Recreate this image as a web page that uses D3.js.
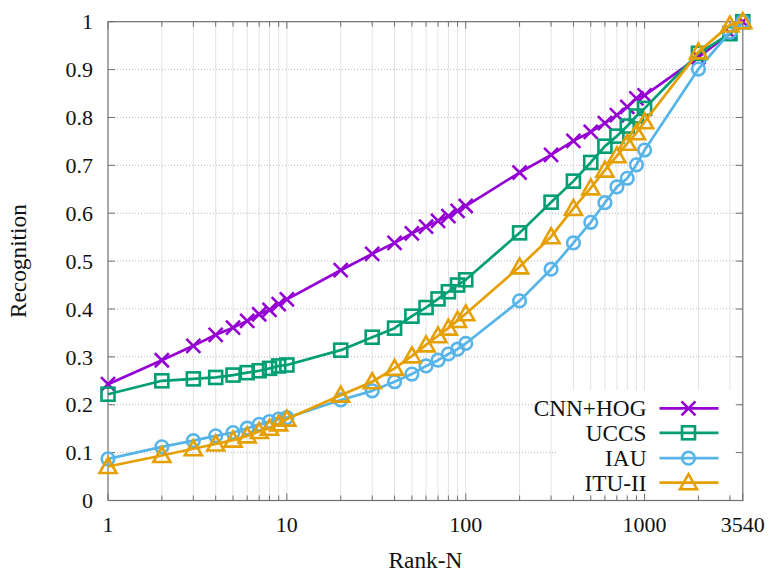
<!DOCTYPE html>
<html>
<head>
<meta charset="utf-8">
<script src="https://cdn.jsdelivr.net/npm/d3@7/dist/d3.min.js"></script>
<style>
  html, body { margin: 0; padding: 0; background: #fff; }
  svg { display: block; }
  svg text { font-family: "Liberation Serif", "DejaVu Serif", serif; }
</style>
</head>
<body>
<div id="chart"></div>
<script>
// ranks on the x axis (log scale)
const ranks = [1, 2, 3, 4, 5, 6, 7, 8, 9, 10,
  20, 30, 40, 50, 60, 70, 80, 90, 100,
  200, 300, 400, 500, 600, 700, 800, 900, 1000,
  2000, 3000, 3540];

const cnnHog = [0.243, 0.293, 0.323, 0.346, 0.361, 0.375, 0.389, 0.398, 0.410, 0.420,
  0.481, 0.515, 0.538, 0.558, 0.572, 0.584, 0.594, 0.605, 0.615,
  0.685, 0.722, 0.751, 0.770, 0.788, 0.805, 0.822, 0.840, 0.846,
  0.926, 0.976, 1.0];
const uccs = [0.222, 0.250, 0.254, 0.257, 0.262, 0.267, 0.271, 0.276, 0.281, 0.283,
  0.314, 0.341, 0.360, 0.385, 0.403, 0.421, 0.436, 0.450, 0.461,
  0.559, 0.623, 0.667, 0.706, 0.740, 0.761, 0.782, 0.803, 0.819,
  0.934, 0.975, 1.0];
const iau = [0.087, 0.112, 0.125, 0.135, 0.142, 0.151, 0.159, 0.165, 0.170, 0.173,
  0.210, 0.229, 0.248, 0.264, 0.281, 0.293, 0.306, 0.316, 0.328,
  0.417, 0.483, 0.538, 0.581, 0.622, 0.655, 0.673, 0.701, 0.732,
  0.901, 0.978, 1.0];
const ituII = [0.071, 0.094, 0.108, 0.118, 0.126, 0.135, 0.144, 0.151, 0.160, 0.170,
  0.220, 0.248, 0.276, 0.302, 0.325, 0.344, 0.360, 0.376, 0.390,
  0.488, 0.551, 0.610, 0.653, 0.690, 0.720, 0.746, 0.768, 0.791,
  0.937, 0.993, 1.0];

const seriesNames = ["CNN+HOG", "UCCS", "IAU", "ITU-II"];
const seriesValues = [cnnHog, uccs, iau, ituII];
const seriesColors = ["#9400d3", "#009e73", "#56b4e9", "#e69f00"];
const seriesSymbols = ["cross", "square", "circle", "triangle"];

const xTickValues = [1, 10, 100, 1000, 3540];
const yTickValues = [0, 0.1, 0.2, 0.3, 0.4, 0.5, 0.6, 0.7, 0.8, 0.9, 1];

const width = 769, height = 573;
const plotLeft = 108, plotRight = 742.8, plotTop = 21.7, plotBottom = 500.5;
const tickFont = 22;   // digits
const wordFont = 23.3; // titles and legend
const textColor = "#111";

const svg = d3.select("#chart").append("svg")
  .attr("width", width)
  .attr("height", height);

const x = d3.scaleLog().domain([1, 3540]).range([plotLeft, plotRight]);
const y = d3.scaleLinear().domain([0, 1]).range([plotBottom, plotTop]);

// minor positions 2..9 per decade, plus 2000, 3000
const minorX = [];
[1, 10, 100].forEach(d => { for (let k = 2; k <= 9; k++) minorX.push(k * d); });
minorX.push(2000, 3000);
const gridX = minorX.concat([10, 100, 1000]);

// ── Grid ─────────────────────────────────────────────
svg.append("g")
  .selectAll("line")
  .data(gridX)
  .join("line")
  .attr("x1", d => x(d)).attr("x2", d => x(d))
  .attr("y1", plotTop).attr("y2", plotBottom)
  .attr("stroke", "#e2e2e2")
  .attr("stroke-width", 1);

svg.append("g")
  .selectAll("line")
  .data(yTickValues.slice(1, -1))
  .join("line")
  .attr("x1", plotLeft).attr("x2", plotRight)
  .attr("y1", d => y(d)).attr("y2", d => y(d))
  .attr("stroke", "#b8b8b8")
  .attr("stroke-width", 1)
  .attr("stroke-dasharray", "1,2");

// legend box hides the grid behind it
svg.append("rect")
  .attr("x", 556).attr("y", 390)
  .attr("width", plotRight - 556 - 2).attr("height", plotBottom - 390 - 6)
  .attr("fill", "#fff");

// ── Border & ticks ───────────────────────────────────
const axisColor = "#707070";
svg.append("rect")
  .attr("x", plotLeft).attr("y", plotTop)
  .attr("width", plotRight - plotLeft).attr("height", plotBottom - plotTop)
  .attr("fill", "none")
  .attr("stroke", axisColor)
  .attr("stroke-width", 1.2);

const tickG = svg.append("g").attr("stroke", axisColor).attr("stroke-width", 1);
const xTicks = minorX.map(v => ({ v, len: 5 })).concat(xTickValues.map(v => ({ v, len: 7 })));
xTicks.forEach(t => {
  tickG.append("line").attr("x1", x(t.v)).attr("x2", x(t.v)).attr("y1", plotBottom).attr("y2", plotBottom - t.len);
  tickG.append("line").attr("x1", x(t.v)).attr("x2", x(t.v)).attr("y1", plotTop).attr("y2", plotTop + t.len);
});
yTickValues.forEach(v => {
  tickG.append("line").attr("x1", plotLeft).attr("x2", plotLeft + 7).attr("y1", y(v)).attr("y2", y(v));
  tickG.append("line").attr("x1", plotRight).attr("x2", plotRight - 7).attr("y1", y(v)).attr("y2", y(v));
});

// tick labels
svg.append("g")
  .selectAll("text")
  .data(xTickValues)
  .join("text")
  .attr("x", d => x(d))
  .attr("y", plotBottom + 31)
  .attr("text-anchor", "middle")
  .attr("font-size", tickFont)
  .attr("fill", textColor)
  .text(d => d);

svg.append("g")
  .selectAll("text")
  .data(yTickValues)
  .join("text")
  .attr("x", 93)
  .attr("y", d => y(d))
  .attr("dy", "0.35em")
  .attr("text-anchor", "end")
  .attr("font-size", tickFont)
  .attr("fill", textColor)
  .text(d => d3.format("")(d));

// axis titles
svg.append("text")
  .attr("x", (plotLeft + plotRight) / 2)
  .attr("y", 568)
  .attr("text-anchor", "middle")
  .attr("font-size", wordFont)
  .attr("fill", textColor)
  .text("Rank-N");

svg.append("text")
  .attr("transform", `translate(26,${(plotTop + plotBottom) / 2}) rotate(-90)`)
  .attr("text-anchor", "middle")
  .attr("font-size", wordFont)
  .attr("fill", textColor)
  .text("Recognition");

// ── Markers ──────────────────────────────────────────
function drawSymbol(g, type, cx, cy, color) {
  if (type === "cross") {
    const s = 7;
    g.append("path")
      .attr("d", `M${cx - s},${cy - s}L${cx + s},${cy + s}M${cx - s},${cy + s}L${cx + s},${cy - s}`)
      .attr("stroke", color).attr("stroke-width", 2.6).attr("fill", "none");
  } else if (type === "square") {
    const s = 6.5;
    g.append("rect")
      .attr("x", cx - s).attr("y", cy - s).attr("width", 2 * s).attr("height", 2 * s)
      .attr("stroke", color).attr("stroke-width", 2.6).attr("fill", "none");
  } else if (type === "circle") {
    g.append("circle")
      .attr("cx", cx).attr("cy", cy).attr("r", 6.3)
      .attr("stroke", color).attr("stroke-width", 2.6).attr("fill", "none");
  } else {
    g.append("path")
      .attr("d", `M${cx},${cy - 8.5}L${cx + 8.5},${cy + 6.5}L${cx - 8.5},${cy + 6.5}Z`)
      .attr("stroke", color).attr("stroke-width", 2.6).attr("fill", "none")
      .attr("stroke-linejoin", "miter");
  }
}

// ── Series ───────────────────────────────────────────
const line = d3.line()
  .x(d => x(d[0]))
  .y(d => y(d[1]));

seriesNames.forEach((name, i) => {
  const pts = ranks.map((r, j) => [r, seriesValues[i][j]]);
  const g = svg.append("g");
  g.append("path")
    .attr("d", line(pts))
    .attr("fill", "none")
    .attr("stroke", seriesColors[i])
    .attr("stroke-width", 2.7)
    .attr("stroke-linejoin", "round");
  pts.forEach(p => drawSymbol(g, seriesSymbols[i], x(p[0]), y(p[1]), seriesColors[i]));
});

// ── Legend ───────────────────────────────────────────
const legendY = [408.3, 432.8, 458.2, 482.7];
seriesNames.forEach((name, i) => {
  const g = svg.append("g");
  g.append("text")
    .attr("x", 646.5)
    .attr("y", legendY[i])
    .attr("dy", "0.35em")
    .attr("text-anchor", "end")
    .attr("font-size", wordFont)
    .attr("fill", textColor)
    .text(name);
  g.append("line")
    .attr("x1", 659.5).attr("x2", 718.5)
    .attr("y1", legendY[i]).attr("y2", legendY[i])
    .attr("stroke", seriesColors[i])
    .attr("stroke-width", 2.7);
  drawSymbol(g, seriesSymbols[i], 688.5, legendY[i], seriesColors[i]);
});
</script>
</body>
</html>
